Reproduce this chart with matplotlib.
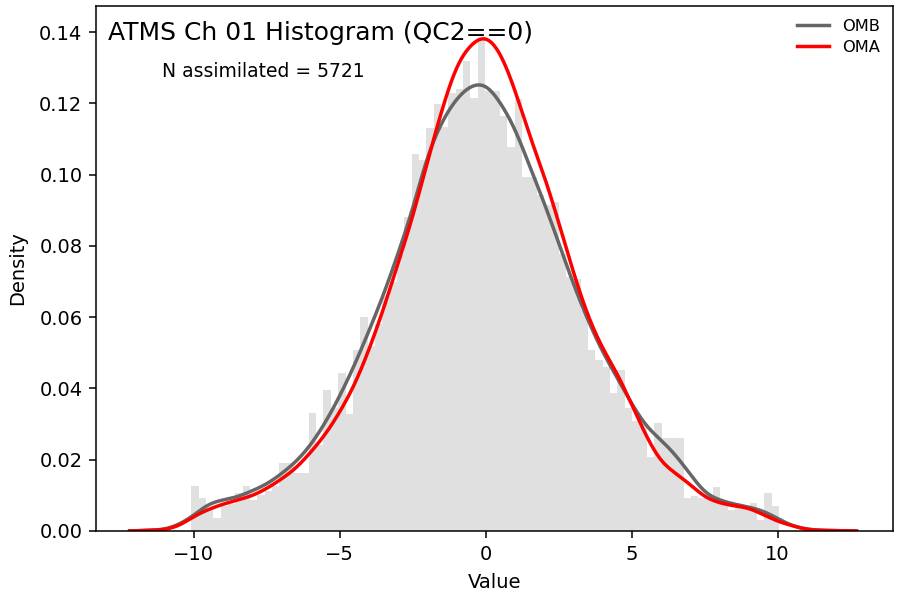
import numpy as np
import matplotlib
matplotlib.use("Agg")
import matplotlib.pyplot as plt

# ---------------- data ----------------
hist_range = (-10.09, 10.05)
n_bins = 80
hist_density = [
    0.0126, 0.0093, 0.0065, 0.0036, 0.0070, 0.0075, 0.0107, 0.0126, 0.0087, 0.0100,
    0.0112, 0.0125, 0.0192, 0.0192, 0.0163, 0.0163, 0.0332, 0.0241, 0.0396, 0.0346,
    0.0444, 0.0328, 0.0508, 0.0601, 0.0520, 0.0580, 0.0660, 0.0700, 0.0780, 0.0880,
    0.1058, 0.1040, 0.1130, 0.1198, 0.1134, 0.1228, 0.1240, 0.1320, 0.1214, 0.1378,
    0.1235, 0.1235, 0.1163, 0.1078, 0.1211, 0.0994, 0.0994, 0.0943, 0.0915, 0.0924,
    0.0777, 0.0712, 0.0708, 0.0620, 0.0508, 0.0480, 0.0460, 0.0386, 0.0452, 0.0346,
    0.0310, 0.0300, 0.0209, 0.0302, 0.0260, 0.0260, 0.0260, 0.0092, 0.0098, 0.0092,
    0.0100, 0.0124, 0.0082, 0.0059, 0.0072, 0.0070, 0.0078, 0.0031, 0.0106, 0.0070,
]

omb_x = [-12.2, -11.5, -11.0, -10.5, -10.0, -9.5, -9.0, -8.5, -8.0, -7.5, -7.0, -6.5,
         -6.0, -5.5, -5.0, -4.5, -4.0, -3.5, -3.0, -2.5, -2.0, -1.5, -1.0, -0.5,
         0.0, 0.5, 1.0, 1.5, 2.0, 2.5, 3.0, 3.5, 4.0, 4.5, 5.0, 5.5, 6.0, 6.5, 7.0,
         7.5, 8.0, 8.5, 9.0, 9.5, 10.0, 10.5, 11.0, 11.5, 12.0, 12.7]
omb_y = [0.0000, 0.0002, 0.0006, 0.0020, 0.0045, 0.0073, 0.0087, 0.0097, 0.0113, 0.0133,
         0.0161, 0.0196, 0.0243, 0.0305, 0.0380, 0.0466, 0.0562, 0.0665, 0.0780, 0.0907,
         0.1045, 0.1145, 0.1210, 0.1246, 0.1246, 0.1200, 0.1125, 0.1025, 0.0920,
         0.0808, 0.0695, 0.0593, 0.0505, 0.0430, 0.0358, 0.0297, 0.0255, 0.0212, 0.0160,
         0.0112, 0.0088, 0.0076, 0.0067, 0.0055, 0.0035, 0.0016, 0.0006, 0.0002, 0.0001,
         0.0000]

oma_x = [-12.2, -11.5, -11.0, -10.5, -10.0, -9.5, -9.0, -8.5, -8.0, -7.5, -7.0, -6.5,
         -6.0, -5.5, -5.0, -4.5, -4.0, -3.5, -3.0, -2.5, -2.0, -1.5, -1.0, -0.5, 0.0,
         0.5, 1.0, 1.5, 2.0, 2.5, 3.0, 3.5, 4.0, 4.5, 5.0, 5.5, 6.0, 6.5, 7.0, 7.5,
         8.0, 8.5, 9.0, 9.5, 10.0, 10.5, 11.0, 11.5, 12.0, 12.7]
oma_y = [0.0000, 0.0002, 0.0005, 0.0017, 0.0040, 0.0060, 0.0075, 0.0087, 0.0100, 0.0120,
         0.0146, 0.0178, 0.0221, 0.0272, 0.0335, 0.0412, 0.0510, 0.0625, 0.0752, 0.0885,
         0.1035, 0.1180, 0.1298, 0.1362, 0.1380, 0.1335, 0.1235, 0.1112, 0.0995, 0.0865,
         0.0728, 0.0607, 0.0515, 0.0440, 0.0355, 0.0268, 0.0200, 0.0162, 0.0130, 0.0098,
         0.0080, 0.0071, 0.0063, 0.0046, 0.0028, 0.0015, 0.0005, 0.0002, 0.0001, 0.0000]

title_text = "ATMS Ch 01 Histogram (QC2==0)"
n_text = "N assimilated = 5721"
labels = ["OMB", "OMA"]


def smooth(x, y, n=1000):
    """Natural cubic spline through the read points (drawing only)."""
    x = np.asarray(x, float)
    y = np.asarray(y, float)
    npts = len(x)
    h = np.diff(x)
    A = np.zeros((npts, npts))
    b = np.zeros(npts)
    A[0, 0] = A[-1, -1] = 1.0
    for i in range(1, npts - 1):
        A[i, i - 1] = h[i - 1]
        A[i, i] = 2 * (h[i - 1] + h[i])
        A[i, i + 1] = h[i]
        b[i] = 6 * ((y[i + 1] - y[i]) / h[i] - (y[i] - y[i - 1]) / h[i - 1])
    M = np.linalg.solve(A, b)
    xs = np.linspace(x[0], x[-1], n)
    idx = np.clip(np.searchsorted(x, xs) - 1, 0, npts - 2)
    x0, x1 = x[idx], x[idx + 1]
    hh = h[idx]
    ys = (M[idx] * (x1 - xs) ** 3 / (6 * hh) + M[idx + 1] * (xs - x0) ** 3 / (6 * hh)
          + (y[idx] / hh - M[idx] * hh / 6) * (x1 - xs)
          + (y[idx + 1] / hh - M[idx + 1] * hh / 6) * (xs - x0))
    return xs, np.clip(ys, 0, None)


fig = plt.figure(figsize=(9, 6), dpi=100)
ax = fig.add_axes([0.1067, 0.115, 0.8855, 0.875])

edges = np.linspace(hist_range[0], hist_range[1], n_bins + 1)
ax.bar(edges[:-1], hist_density, width=np.diff(edges), align="edge",
       color="#e0e0e0", linewidth=0)

xs, ys = smooth(omb_x, omb_y)
ax.plot(xs, ys, color="#666666", lw=2.5, label=labels[0])
xs, ys = smooth(oma_x, oma_y)
ax.plot(xs, ys, color="red", lw=2.5, label=labels[1])

ax.set_xlim(-13.35, 13.95)
ax.set_ylim(0, 0.1473)
ax.set_yticks(np.arange(0, 0.141, 0.02))
ax.set_xticks([-10, -5, 0, 5, 10])
ax.tick_params(labelsize=14, length=4.9, width=1.1, pad=4.9)
for s in ax.spines.values():
    s.set_linewidth(1.1)
ax.set_xlabel("Value", fontsize=14, labelpad=7)
ax.set_ylabel("Density", fontsize=14, labelpad=9)

ax.text(0.015, 0.972, title_text, transform=ax.transAxes, fontsize=18,
        va="top", ha="left")
ax.text(0.083, 0.893, n_text, transform=ax.transAxes, fontsize=13.5,
        va="top", ha="left")

ax.legend(loc="upper right", frameon=False, fontsize=11.7, borderaxespad=0.4,
          labelspacing=0.35)

fig.savefig("out.png", dpi=100)
